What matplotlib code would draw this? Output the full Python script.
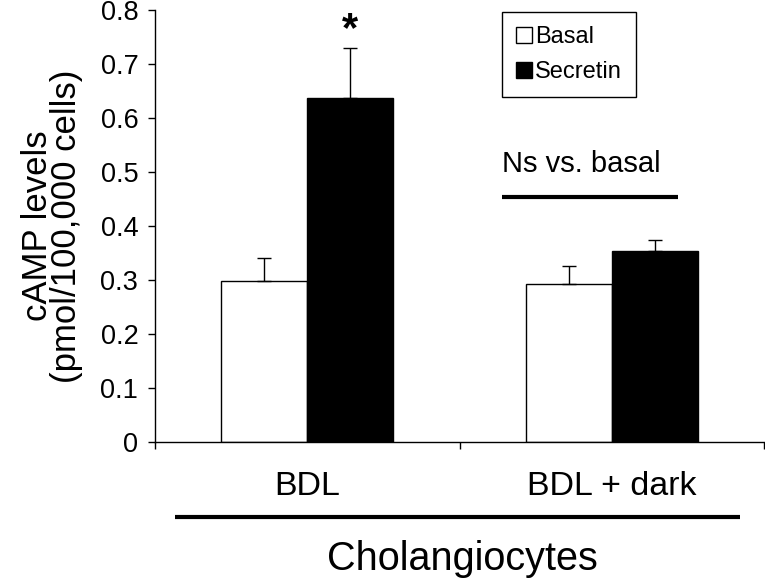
import numpy as np
import matplotlib
matplotlib.use('Agg')
import matplotlib.pyplot as plt

plt.rcParams['font.family'] = ['Liberation Sans', 'DejaVu Sans']

# values
groups = ['BDL', 'BDL + dark']
basal = [0.298, 0.293]
basal_err = [0.043, 0.033]
secretin = [0.637, 0.354]
secretin_err = [0.093, 0.020]
yticks = [0, 0.1, 0.2, 0.3, 0.4, 0.5, 0.6, 0.7, 0.8]
ytick_labels = ['0', '0.1', '0.2', '0.3', '0.4', '0.5', '0.6', '0.7', '0.8']


fig = plt.figure(figsize=(7.65, 5.8), dpi=100)
ax = fig.add_axes([155 / 765, 138 / 580, 609 / 765, 432 / 580])

x = np.arange(len(groups))
w = 0.283

ax.bar(x - w / 2, basal, w, color='white', edgecolor='black', linewidth=1, label='Basal')
ax.bar(x + w / 2, secretin, w, color='black', edgecolor='black', linewidth=1, label='Secretin')

# only the upper half of the error bars is shown
ax.errorbar(x - w / 2, basal, yerr=[np.zeros(len(basal)), basal_err], fmt='none',
            ecolor='black', elinewidth=1, capsize=5, capthick=1)
ax.errorbar(x + w / 2, secretin, yerr=[np.zeros(len(secretin)), secretin_err], fmt='none',
            ecolor='black', elinewidth=1, capsize=5, capthick=1)

# significance star above BDL secretin
ax.text(x[0] + w / 2, secretin[0] + secretin_err[0] + 0.012, '*', ha='center', va='baseline',
        fontsize=30, fontweight='bold')

# "Ns vs. basal" note over the second group
ax.plot([0.641, 1.217], [0.454, 0.454], color='black', lw=3, solid_capstyle='butt')
ax.text(0.641, 0.5, 'Ns vs. basal', ha='left', va='baseline', fontsize=21)

ax.set_xlim(-0.5, 1.5)
ax.set_ylim(0, 0.8)
ax.set_yticks(yticks, ytick_labels)
ax.set_xticks(x, groups)
ax.set_xticks([-0.5, 0.5, 1.5], minor=True)
ax.tick_params(axis='y', direction='out', length=5, width=1, pad=7, labelsize=19.5)
ax.tick_params(axis='x', which='major', length=0, pad=21, labelsize=24.5)
ax.tick_params(axis='x', which='minor', direction='out', length=5, width=1)

for side in ['top', 'right']:
    ax.spines[side].set_visible(False)
for side in ['left', 'bottom']:
    ax.spines[side].set_linewidth(1)

ax.set_ylabel('cAMP levels\n(pmol/100,000 cells)', fontsize=25, linespacing=0.85)
ax.yaxis.set_label_coords(-0.118, 0.5)

# bracket line under the group labels
ax.plot([-0.434, 1.421], [-0.174, -0.174], color='black', lw=3, solid_capstyle='butt',
        transform=ax.get_xaxis_transform(), clip_on=False)
fig.text(462 / 765, 10 / 580, 'Cholangiocytes', ha='center', va='baseline', fontsize=28.5)

leg = ax.legend(loc='upper left', bbox_to_anchor=(502 / 765, 1 - 12 / 580),
                bbox_transform=fig.transFigure, fancybox=False, edgecolor='black',
                framealpha=1, fontsize=17, handlelength=0.65, handleheight=0.65,
                handletextpad=0.15, borderpad=0.6, labelspacing=0.55, borderaxespad=0)
leg.get_frame().set_linewidth(1)

fig.savefig('out.png', dpi=100)
